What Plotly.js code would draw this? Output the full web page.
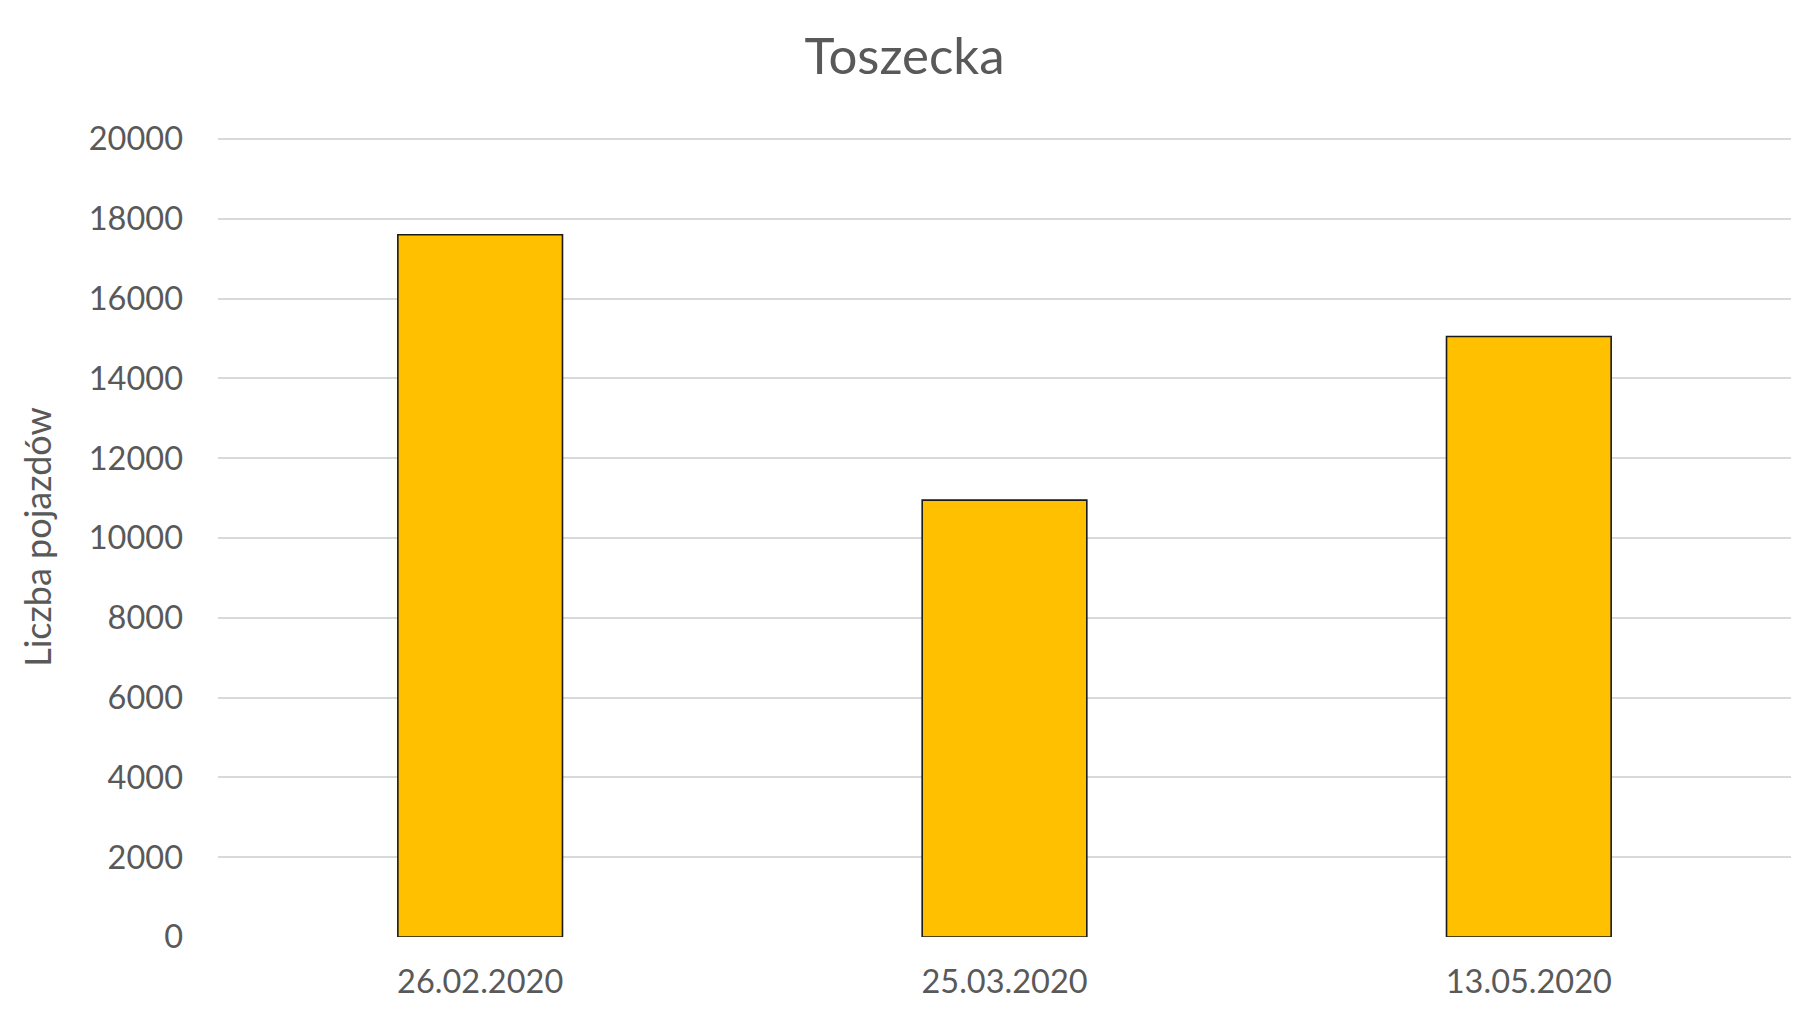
<!DOCTYPE html>
<html>
<head>
<meta charset="utf-8">
<script src="https://cdn.plot.ly/plotly-3.0.1.min.js"></script>
<style>
  html, body { margin: 0; padding: 0; background: #fff; }
  #graph { width: 1820px; height: 1020px; }
</style>
</head>
<body>
<div id="graph"></div>
<script>
var dates = ['26.02.2020', '25.03.2020', '13.05.2020'];
var vehicles = [17600, 10950, 15050];
var yTicks = [0, 2000, 4000, 6000, 8000, 10000, 12000, 14000, 16000, 18000, 20000];

var graph = document.getElementById('graph');

var trace = {
  x: dates,
  y: vehicles,
  type: 'bar',
  marker: {
    color: '#ffc000',
    line: { color: '#1a1a1a', width: 1.6 }
  },
  hoverinfo: 'x+y'
};

var layout = {
  width: 1820,
  height: 1020,
  margin: { l: 218, r: 29, t: 137, b: 83 },
  paper_bgcolor: '#ffffff',
  plot_bgcolor: '#ffffff',
  font: { family: 'Lato, "Open Sans", sans-serif', color: '#595959' },
  title: {
    text: 'Toszecka',
    font: { size: 51, color: '#595959' },
    x: 0.497,
    xanchor: 'center',
    y: 0.945,
    yanchor: 'middle'
  },
  bargap: 0.686,
  showlegend: false,
  xaxis: {
    type: 'category',
    showgrid: false,
    zeroline: false,
    showline: false,
    ticks: '',
    tickfont: { size: 32.5, color: '#595959' },
    ticklabelstandoff: 22
  },
  yaxis: {
    // a touch above 20000 so the top gridline is still drawn
    range: [0, 20050],
    tickvals: yTicks,
    ticktext: yTicks.map(String),
    showgrid: true,
    gridcolor: '#d9d9d9',
    gridwidth: 2,
    zeroline: false,
    showline: false,
    ticks: '',
    tickfont: { size: 32.5, color: '#595959' },
    ticklabelstandoff: 34,
    title: {
      text: 'Liczba pojazdów',
      font: { size: 36, color: '#595959' },
      standoff: 26
    }
  }
};

var config = { displayModeBar: false, staticPlot: true };

Plotly.newPlot(graph, [trace], layout, config);
</script>
</body>
</html>
